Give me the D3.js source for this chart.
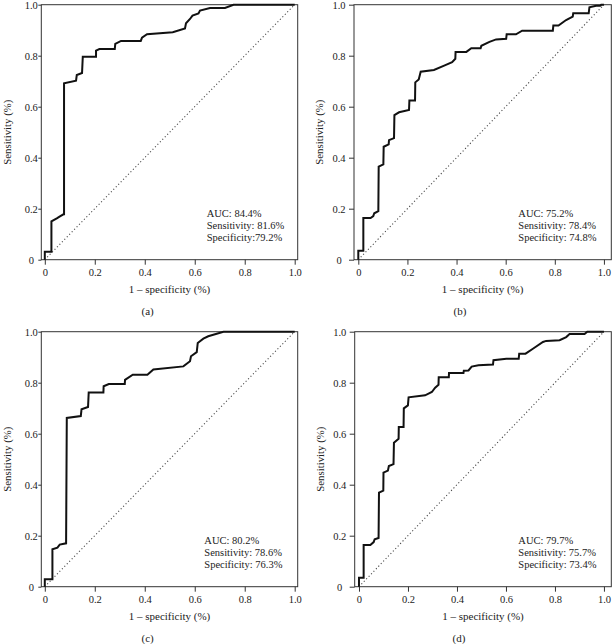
<!DOCTYPE html>
<html>
<head>
<meta charset="utf-8">
<script src="https://cdn.jsdelivr.net/npm/d3@7"></script>
<style>
  html, body { margin: 0; padding: 0; background: #fff; }
  svg { display: block; }
  text { font-family: "Liberation Serif", "DejaVu Serif", serif; fill: #222; }
</style>
</head>
<body>
<svg id="chart" width="612" height="644"></svg>
<script>
// ---------- DATA ----------
const panelLetters = ["(a)", "(b)", "(c)", "(d)"];
const tickValues = [0, 0.2, 0.4, 0.6, 0.8, 1.0];
const tickLabels = ["0", "0.2", "0.4", "0.6", "0.8", "1.0"];
const xTitle = "1 \u2013 specificity (%)";
const yTitle = "Sensitivity (%)";
const aucLabels = ["AUC: 84.4%", "AUC: 75.2%", "AUC: 80.2%", "AUC: 79.7%"];
const sensLabels = ["Sensitivity: 81.6%", "Sensitivity: 78.4%", "Sensitivity: 78.6%", "Sensitivity: 75.7%"];
const specLabels = ["Specificity:79.2%", "Specificity: 74.8%", "Specificity: 76.3%", "Specificity: 73.4%"];

// ROC points: [1 - specificity, sensitivity]
const rocA = [[0,0],[0,0.031],[0.0265,0.031],[0.0265,0.150],[0.048,0.162],[0.059,0.169],[0.0745,0.178],[0.077,0.178],[0.077,0.692],[0.125,0.702],[0.128,0.724],[0.149,0.732],[0.152,0.796],[0.205,0.796],[0.205,0.820],[0.2185,0.826],[0.280,0.826],[0.282,0.846],[0.305,0.858],[0.384,0.858],[0.389,0.871],[0.409,0.884],[0.512,0.892],[0.561,0.907],[0.565,0.927],[0.581,0.944],[0.591,0.957],[0.615,0.966],[0.621,0.977],[0.661,0.987],[0.721,0.987],[0.755,1.0],[1,1]];
const rocB = [[0,0],[0,0.035],[0.0205,0.035],[0.0205,0.1635],[0.050,0.1635],[0.061,0.171],[0.065,0.182],[0.0816,0.190],[0.083,0.365],[0.102,0.374],[0.1033,0.443],[0.1237,0.4525],[0.125,0.469],[0.1454,0.477],[0.147,0.567],[0.166,0.578],[0.2065,0.587],[0.208,0.624],[0.231,0.624],[0.232,0.6955],[0.246,0.707],[0.254,0.737],[0.308,0.744],[0.352,0.762],[0.382,0.775],[0.395,0.788],[0.396,0.815],[0.440,0.815],[0.460,0.829],[0.498,0.829],[0.501,0.839],[0.534,0.854],[0.561,0.864],[0.602,0.866],[0.604,0.884],[0.642,0.884],[0.667,0.898],[0.792,0.898],[0.794,0.918],[0.815,0.918],[0.846,0.940],[0.873,0.953],[0.875,0.966],[0.938,0.966],[0.941,0.990],[0.968,0.996],[0.985,0.996],[0.989,1.0],[1,1]];
const rocC = [[0,0],[0,0.029],[0.0305,0.029],[0.0305,0.1466],[0.0505,0.153],[0.0598,0.165],[0.0852,0.170],[0.088,0.6616],[0.144,0.669],[0.147,0.6955],[0.173,0.705],[0.1757,0.762],[0.2345,0.762],[0.2355,0.786],[0.256,0.795],[0.320,0.795],[0.321,0.811],[0.352,0.8315],[0.4105,0.8315],[0.4345,0.852],[0.5545,0.864],[0.581,0.884],[0.585,0.9035],[0.608,0.920],[0.612,0.956],[0.6345,0.9727],[0.654,0.982],[0.715,1.0],[1,1]];
const rocD = [[0,0],[0,0.035],[0.019,0.035],[0.019,0.1635],[0.0463,0.1635],[0.060,0.175],[0.064,0.186],[0.080,0.191],[0.0816,0.3686],[0.0993,0.3766],[0.1,0.447],[0.118,0.455],[0.122,0.473],[0.141,0.481],[0.1427,0.565],[0.1617,0.580],[0.1625,0.626],[0.182,0.626],[0.183,0.6995],[0.1997,0.711],[0.2025,0.7426],[0.270,0.7505],[0.2975,0.7635],[0.311,0.7805],[0.3246,0.792],[0.3255,0.821],[0.3667,0.821],[0.3675,0.838],[0.4265,0.838],[0.428,0.847],[0.447,0.848],[0.460,0.863],[0.4876,0.868],[0.547,0.871],[0.549,0.888],[0.6016,0.894],[0.652,0.894],[0.654,0.914],[0.680,0.914],[0.710,0.933],[0.751,0.9596],[0.764,0.964],[0.819,0.9665],[0.846,0.979],[0.8597,0.991],[0.9207,0.991],[0.932,1.0],[1,1]];
const diagonal = [[0,0],[1,1]];

// ---------- LAYOUT ----------
const rocs = [rocA, rocB, rocC, rocD];
const panels = [
  {left: 41.3, right: 297.7, top: 4.7,   bottom: 259.7, xd: [-0.014, 1.012], yTickX: -10,  letterX: 147.7, letterY: 315},
  {left: 354,  right: 611.3, top: 4.7,   bottom: 259.7, xd: [-0.0175, 1.03], yTickX: -15,  letterX: 460,   letterY: 315},
  {left: 41.3, right: 297.7, top: 331.7, bottom: 586.7, xd: [-0.014, 1.012], yTickX: -10,  letterX: 147.7, letterY: 642},
  {left: 354.7,right: 611.3, top: 331.7, bottom: 586.7, xd: [-0.0175, 1.03], yTickX: -15,  letterX: 459,   letterY: 642}
];
const annX = [206.7, 518.3, 204.3, 518.3];

const svg = d3.select("#chart");

panels.forEach((p, i) => {
  const x = d3.scaleLinear().domain(p.xd).range([p.left, p.right]);
  const y = d3.scaleLinear().domain([0, 1]).range([p.bottom, p.top]);
  const g = svg.append("g");

  // x axis
  const xa = g.append("g")
    .attr("transform", `translate(0,${p.bottom})`)
    .call(d3.axisBottom(x).tickValues(tickValues).tickFormat((d, k) => tickLabels[k])
      .tickSize(5).tickSizeOuter(0).tickPadding(4));
  xa.select(".domain").remove();
  xa.selectAll(".tick line").attr("stroke", "#333");
  xa.selectAll("text").attr("font-size", "10.5px").attr("fill", "#222")
    .style("font-family", '"Liberation Serif", serif');

  // y axis
  const ya = g.append("g")
    .attr("transform", `translate(${p.left},0)`)
    .call(d3.axisLeft(y).tickValues(tickValues).tickFormat((d, k) => tickLabels[k])
      .tickSize(i % 2 === 0 ? 3 : 5).tickSizeOuter(0));
  ya.select(".domain").remove();
  ya.selectAll(".tick line").attr("stroke", "#333");
  ya.selectAll("text").attr("font-size", "10.5px").attr("fill", "#222")
    .attr("text-anchor", "middle").attr("x", p.yTickX)
    .style("font-family", '"Liberation Serif", serif');

  // frame
  g.append("rect")
    .attr("x", p.left).attr("y", p.top)
    .attr("width", p.right - p.left).attr("height", p.bottom - p.top)
    .attr("fill", "none").attr("stroke", "#333").attr("stroke-width", 1);

  const line = d3.line().x(d => x(d[0])).y(d => y(d[1]));

  // diagonal reference line
  g.append("path").datum(diagonal).attr("d", line)
    .attr("fill", "none").attr("stroke", "#444").attr("stroke-width", 1.1)
    .attr("stroke-dasharray", "1.1,2.4");

  // ROC curve
  g.append("path").datum(rocs[i]).attr("d", line)
    .attr("fill", "none").attr("stroke", "#111").attr("stroke-width", 2)
    .attr("stroke-linejoin", "miter");

  // annotations
  const ann = [aucLabels[i], sensLabels[i], specLabels[i]];
  ann.forEach((t, k) => {
    g.append("text").attr("x", annX[i]).attr("y", p.bottom - 43 + k * 12.3)
      .attr("font-size", "10.5px").text(t);
  });

  // axis titles
  g.append("text")
    .attr("x", (p.left + p.right) / 2).attr("y", p.bottom + 33)
    .attr("text-anchor", "middle").attr("font-size", "11px").text(xTitle);
  g.append("text")
    .attr("transform", `translate(${p.left - 30.8},${(p.top + p.bottom) / 2}) rotate(-90)`)
    .attr("text-anchor", "middle").attr("font-size", "10.8px").text(yTitle);

  // panel letter
  g.append("text").attr("x", p.letterX).attr("y", p.letterY)
    .attr("text-anchor", "middle").attr("font-size", "11px").text(panelLetters[i]);
});
</script>
</body>
</html>
